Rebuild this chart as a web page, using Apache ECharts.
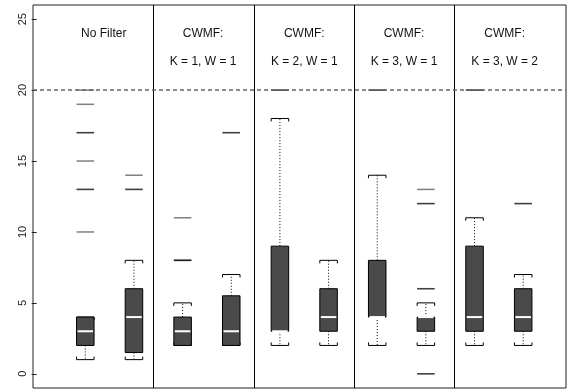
<!DOCTYPE html>
<html style="height: 100%">
<head>
  <meta charset="UTF-8">
  <title>CWMF boxplots</title>
  <script src="https://cdn.jsdelivr.net/npm/echarts@6/dist/echarts.min.js"></script>
  <style>
    body { margin: 0; height: 100%; background: #fff; }
    #main { width: 569px; height: 389px; }
  </style>
</head>
<body>
  <div id="main"></div>
  <script>
    // box positions (x units) and five-number summaries
    const positions = [1, 2, 3, 4, 5, 6, 7, 8, 9, 10];
    const lowerWhisker = [1, 1, 2, 2, 2, 2, 2, 2, 2, 2];
    const lowerQuartile = [2, 1.5, 2, 2, 3, 3, 4, 3, 3, 3];
    const medians = [3, 4, 3, 3, 3, 4, 4, 4, 4, 4];
    const upperQuartile = [4, 6, 4, 5.5, 9, 6, 8, 4, 9, 6];
    const upperWhisker = [4, 8, 5, 7, 18, 8, 14, 5, 11, 7];

    // outliers per box (repeated values overlap and look darker)
    const outliers = [
      [20, 19, 17, 17, 15, 13, 13, 10],
      [14, 13, 13],
      [11, 8, 8, 8],
      [17, 17],
      [20, 20],
      [],
      [20, 20],
      [13, 12, 12, 6, 6, 0, 0],
      [20, 20],
      [12, 12]
    ];

    // panel titles
    const titleX = [1.38, 3.42, 5.5, 7.55, 9.62];
    const titleLine1 = ['No Filter', 'CWMF:', 'CWMF:', 'CWMF:', 'CWMF:'];
    const titleLine2 = ['', 'K = 1, W = 1', 'K = 2, W = 1', 'K = 3, W = 1', 'K = 3, W = 2'];
    const titleY1 = 24;
    const titleY2 = 22;

    const separators = [2.403, 4.479, 6.533, 8.592];
    const refLine = 20;
    const yTicks = [0, 5, 10, 15, 20, 25];

    const boxData = positions.map((p, i) => [p, lowerWhisker[i], lowerQuartile[i], medians[i], upperQuartile[i], upperWhisker[i]]);
    const outlierData = [];
    outliers.forEach((vals, i) => vals.forEach(v => outlierData.push([positions[i], v])));
    const titleData = [];
    titleX.forEach((x, i) => {
      titleData.push([x, titleY1, titleLine1[i]]);
      if (titleLine2[i]) titleData.push([x, titleY2, titleLine2[i]]);
    });

    const BOX_W = 0.36;
    const font = '"Liberation Sans", Arial, sans-serif';

    const chart = echarts.init(document.getElementById('main'));
    chart.setOption({
      animation: false,
      grid: {
        left: 33, right: 3, top: 5, bottom: 1,
        show: true, borderColor: '#222', borderWidth: 1
      },
      xAxis: {
        type: 'value', min: -0.075, max: 10.88,
        axisLine: { show: false }, axisTick: { show: false },
        axisLabel: { show: false }, splitLine: { show: false }
      },
      yAxis: {
        type: 'value', min: -1, max: 26,
        axisLine: { show: false },
        splitLine: { show: false },
        axisTick: { show: true, length: 5, customValues: yTicks, lineStyle: { color: '#222' } },
        axisLabel: {
          customValues: yTicks, rotate: 90, margin: 5,
          fontFamily: font, fontSize: 11, color: '#222'
        }
      },
      series: [
        {
          type: 'custom',
          name: 'boxes',
          data: boxData,
          z: 3,
          renderItem: function (params, api) {
            const x = api.value(0);
            const half = api.size([BOX_W, 0])[0] / 2;
            const cx = api.coord([x, 0])[0];
            const y = v => api.coord([x, v])[1];
            const lw = y(api.value(1)), q1 = y(api.value(2)), md = y(api.value(3));
            const q3 = y(api.value(4)), uw = y(api.value(5));
            const solid = { stroke: '#000', lineWidth: 1 };
            const dotted = { stroke: '#000', lineWidth: 1, lineDash: [1, 2] };
            return {
              type: 'group',
              children: [
                { type: 'line', shape: { x1: cx, y1: q3, x2: cx, y2: uw }, style: dotted },
                { type: 'line', shape: { x1: cx, y1: q1, x2: cx, y2: lw }, style: dotted },
                { type: 'polyline', shape: { points: [[cx - half, uw + 3], [cx - half, uw], [cx + half, uw], [cx + half, uw + 3]] }, style: Object.assign({ fill: null }, solid) },
                { type: 'polyline', shape: { points: [[cx - half, lw - 3], [cx - half, lw], [cx + half, lw], [cx + half, lw - 3]] }, style: Object.assign({ fill: null }, solid) },
                { type: 'rect', shape: { x: cx - half, y: q3, width: half * 2, height: q1 - q3 }, style: { fill: '#4a4a4a', stroke: '#000', lineWidth: 1 } },
                { type: 'line', shape: { x1: cx - half + 1, y1: md, x2: cx + half - 1, y2: md }, style: { stroke: '#fff', lineWidth: 2 } }
              ]
            };
          }
        },
        {
          type: 'custom',
          name: 'outliers',
          data: outlierData,
          z: 4,
          renderItem: function (params, api) {
            const half = api.size([BOX_W, 0])[0] / 2;
            const p = api.coord([api.value(0), api.value(1)]);
            return {
              type: 'line',
              shape: { x1: p[0] - half, y1: p[1], x2: p[0] + half, y2: p[1] },
              style: { stroke: 'rgba(0,0,0,0.5)', lineWidth: 1.5 }
            };
          }
        },
        {
          type: 'custom',
          name: 'titles',
          data: titleData,
          z: 5,
          renderItem: function (params, api) {
            const p = api.coord([api.value(0), api.value(1)]);
            return {
              type: 'text',
              x: p[0], y: p[1],
              style: {
                text: titleData[params.dataIndex][2],
                fill: '#111', font: '12px ' + font,
                align: 'center', verticalAlign: 'middle'
              }
            };
          }
        },
        {
          type: 'line',
          name: 'guides',
          data: [],
          markLine: {
            silent: true,
            symbol: 'none',
            label: { show: false },
            data: [
              ...separators.map(v => ({ xAxis: v, lineStyle: { color: '#000', width: 1, type: 'solid' } })),
              { yAxis: refLine, lineStyle: { color: '#666', width: 1.5, type: [4, 3] } }
            ]
          }
        }
      ]
    });
  </script>
</body>
</html>
